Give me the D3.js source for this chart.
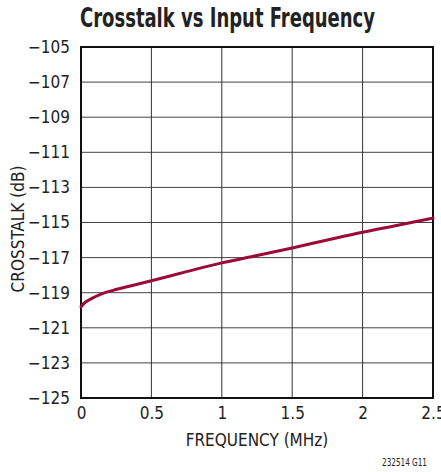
<!DOCTYPE html>
<html>
<head>
<meta charset="utf-8">
<script src="https://cdn.jsdelivr.net/npm/d3@7"></script>
<style>
  body { margin: 0; background: #fff; }
  svg { display: block; }
  text { font-family: "Liberation Sans Narrow", "DejaVu Sans Condensed", "Liberation Sans", sans-serif; fill: #222; }
</style>
</head>
<body>
<svg width="441" height="472"></svg>
<script>
// data
var freq = [0, 0.02, 0.05, 0.1, 0.17, 0.25, 0.4, 0.5, 0.75, 1, 1.25, 1.5, 1.75, 2, 2.25, 2.5];
var crosstalk = [-119.8, -119.62, -119.44, -119.23, -119.0, -118.82, -118.52, -118.32, -117.8, -117.3, -116.88, -116.45, -116.0, -115.56, -115.16, -114.75];
var xTicks = [0, 0.5, 1, 1.5, 2, 2.5];
var yTicks = [-105, -107, -109, -111, -113, -115, -117, -119, -121, -123, -125];

function main() {
    var svg = d3.select("svg"),
        mLeft = 81, mRight = 433, mTop = 47, mBottom = 398;

    var xScale = d3.scaleLinear().domain([0, 2.5]).range([mLeft, mRight]),
        yScale = d3.scaleLinear().domain([-125, -105]).range([mBottom, mTop]);

    var fmt = function(d) { return d < 0 ? "\u2212" + Math.abs(d) : d; };

    // title
    svg.append("text")
        .attr("x", 80)
        .attr("y", 27)
        .attr("font-size", "27px")
        .attr("font-weight", "bold")
        .attr("textLength", 295)
        .attr("lengthAdjust", "spacingAndGlyphs")
        .text("Crosstalk vs Input Frequency");

    // grid
    var g = svg.append("g");
    g.selectAll(".hgrid")
        .data(yTicks)
        .enter().append("line")
        .attr("x1", mLeft).attr("x2", mRight)
        .attr("y1", function(d) { return yScale(d); })
        .attr("y2", function(d) { return yScale(d); })
        .attr("stroke", "#444")
        .attr("stroke-width", 1);

    g.selectAll(".vgrid")
        .data(xTicks)
        .enter().append("line")
        .attr("y1", mTop).attr("y2", mBottom)
        .attr("x1", function(d) { return xScale(d); })
        .attr("x2", function(d) { return xScale(d); })
        .attr("stroke", "#333")
        .attr("stroke-width", 1);

    // frame
    svg.append("rect")
        .attr("x", mLeft).attr("y", mTop)
        .attr("width", mRight - mLeft).attr("height", mBottom - mTop)
        .attr("fill", "none")
        .attr("stroke", "#111")
        .attr("stroke-width", 2);

    // y axis labels
    svg.append("g")
        .attr("transform", "translate(" + mLeft + ",0)")
        .call(d3.axisLeft(yScale).tickValues(yTicks).tickFormat(fmt).tickSize(0).tickPadding(11))
        .call(function(a) { a.select(".domain").remove(); })
        .selectAll("text")
        .attr("font-size", "17px")
        .style("font-family", "\"Liberation Sans Narrow\", \"DejaVu Sans Condensed\", sans-serif")
        .attr("fill", "#222");

    // x axis labels
    svg.append("g")
        .attr("transform", "translate(0," + mBottom + ")")
        .call(d3.axisBottom(xScale).tickValues(xTicks).tickFormat(d3.format("")).tickSize(0).tickPadding(9))
        .call(function(a) { a.select(".domain").remove(); })
        .selectAll("text")
        .attr("font-size", "17px")
        .style("font-family", "\"Liberation Sans Narrow\", \"DejaVu Sans Condensed\", sans-serif")
        .attr("fill", "#222");

    // axis titles
    svg.append("text")
        .attr("transform", "translate(24,229) rotate(-90)")
        .attr("text-anchor", "middle")
        .attr("font-size", "17px")
        .text("CROSSTALK (dB)");

    svg.append("text")
        .attr("x", (mLeft + mRight) / 2)
        .attr("y", 446)
        .attr("text-anchor", "middle")
        .attr("font-size", "17px")
        .text("FREQUENCY (MHz)");

    svg.append("text")
        .attr("x", 427)
        .attr("y", 466)
        .attr("text-anchor", "end")
        .attr("font-size", "10px")
        .attr("textLength", 45)
        .attr("lengthAdjust", "spacingAndGlyphs")
        .text("232514 G11");

    // curve
    var line = d3.line()
        .x(function(d, i) { return xScale(freq[i]); })
        .y(function(d) { return yScale(d); })
        .curve(d3.curveMonotoneX);

    svg.append("path")
        .datum(crosstalk)
        .attr("d", line)
        .attr("fill", "none")
        .attr("stroke", "#9c0a36")
        .attr("stroke-width", 3)
        .attr("stroke-linecap", "round");
}

main();
</script>
</body>
</html>
